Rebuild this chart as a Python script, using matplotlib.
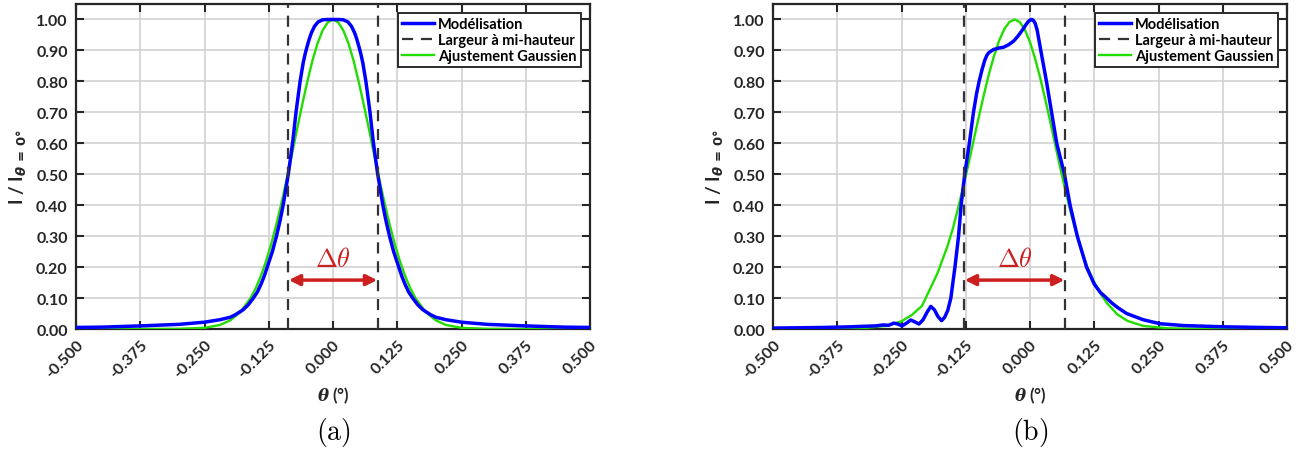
import numpy as np
import matplotlib
matplotlib.use('Agg')
import matplotlib.pyplot as plt
from matplotlib.ticker import FormatStrFormatter
from matplotlib.lines import Line2D

# --- panel (a): symmetric profile
theta_model_a = [-0.5, -0.45, -0.375, -0.3, -0.25, -0.22, -0.2, -0.19, -0.175, -0.165, -0.155,
                 -0.147, -0.14, -0.134, -0.128, -0.118, -0.11, -0.103, -0.097, -0.092, -0.087,
                 -0.082, -0.078, -0.075, -0.072, -0.068, -0.064, -0.058, -0.054, -0.05,
                 -0.046, -0.042, -0.036, -0.029, -0.02, -0.01, 0.0,
                 0.01, 0.02, 0.029, 0.036, 0.042, 0.046, 0.05, 0.054, 0.058, 0.064, 0.068,
                 0.072, 0.075, 0.078, 0.082, 0.087, 0.092, 0.097, 0.103, 0.11, 0.118, 0.128,
                 0.134, 0.14, 0.147, 0.155, 0.165, 0.175, 0.19, 0.2, 0.22, 0.25, 0.3, 0.375,
                 0.45, 0.5]
model_a = [0.005, 0.006, 0.010, 0.015, 0.022, 0.030, 0.038, 0.046, 0.062, 0.078, 0.10,
           0.12, 0.145, 0.17, 0.20, 0.25, 0.30, 0.35, 0.40, 0.45, 0.50,
           0.56, 0.61, 0.655, 0.70, 0.75, 0.80, 0.86, 0.89, 0.915,
           0.938, 0.957, 0.978, 0.992, 0.999, 1.0, 1.0,
           1.0, 0.999, 0.992, 0.978, 0.957, 0.938, 0.915, 0.89, 0.86, 0.80, 0.75,
           0.70, 0.655, 0.61, 0.56, 0.50, 0.45, 0.40, 0.35, 0.30, 0.25, 0.20,
           0.17, 0.145, 0.12, 0.10, 0.078, 0.062, 0.046, 0.038, 0.030, 0.022, 0.015, 0.010,
           0.006, 0.005]

theta_fit_a = [-0.5, -0.4, -0.35, -0.3, -0.25, -0.22, -0.2, -0.18, -0.16, -0.15, -0.14,
               -0.13, -0.12, -0.11, -0.1, -0.09, -0.08, -0.07, -0.06, -0.05, -0.04,
               -0.03, -0.02, -0.01, 0.0, 0.01, 0.02, 0.03, 0.04, 0.05, 0.06, 0.07,
               0.08, 0.09, 0.1, 0.11, 0.12, 0.13, 0.14, 0.15, 0.16, 0.18, 0.2, 0.22,
               0.25, 0.3, 0.35, 0.4, 0.5]
fit_a = [0.0, 0.0, 0.0, 0.0003, 0.0037, 0.013, 0.028, 0.055, 0.101, 0.133, 0.173,
         0.220, 0.276, 0.339, 0.409, 0.484, 0.564, 0.645, 0.724, 0.799, 0.867,
         0.923, 0.965, 0.991, 1.0, 0.991, 0.965, 0.923, 0.867, 0.799, 0.724, 0.645,
         0.564, 0.484, 0.409, 0.339, 0.276, 0.220, 0.173, 0.133, 0.101, 0.055, 0.028, 0.013,
         0.0037, 0.0003, 0.0, 0.0, 0.0]
fwhm_a = [-0.088, 0.088]

# --- panel (b): asymmetric profile with side lobes
theta_model_b = [-0.5, -0.45, -0.4, -0.35, -0.32, -0.3, -0.286, -0.275, -0.265, -0.257,
                 -0.249, -0.241, -0.232, -0.224, -0.216, -0.208, -0.2, -0.193, -0.186,
                 -0.179, -0.172, -0.166, -0.16, -0.154, -0.15, -0.146, -0.139, -0.134,
                 -0.127, -0.118, -0.11, -0.104, -0.099, -0.093, -0.088, -0.084, -0.08,
                 -0.071, -0.06, -0.052, -0.042, -0.032, -0.024, -0.016, -0.008, -0.003,
                 0.0, 0.003, 0.006, 0.01, 0.014, 0.021, 0.032, 0.042, 0.052, 0.067, 0.078,
                 0.092, 0.11, 0.125, 0.137, 0.149, 0.16, 0.17, 0.188, 0.22, 0.253, 0.3,
                 0.379, 0.45, 0.5]
model_b = [0.003, 0.004, 0.005, 0.007, 0.009, 0.010, 0.013, 0.012, 0.019, 0.016,
           0.010, 0.018, 0.029, 0.023, 0.016, 0.030, 0.055, 0.073, 0.062,
           0.040, 0.027, 0.038, 0.060, 0.10, 0.15, 0.20, 0.30, 0.40,
           0.50, 0.60, 0.70, 0.76, 0.80, 0.84, 0.868, 0.884, 0.893,
           0.903, 0.908, 0.910, 0.918, 0.93, 0.945, 0.963, 0.983, 0.994,
           0.998, 1.0, 0.998, 0.988, 0.965, 0.90, 0.80, 0.70, 0.60, 0.50, 0.40,
           0.30, 0.20, 0.145, 0.118, 0.10, 0.083, 0.07, 0.05, 0.03, 0.017, 0.011,
           0.007, 0.005, 0.004]

theta_fit_b = [-0.5, -0.4, -0.33, -0.28, -0.25, -0.23, -0.21, -0.19, -0.18, -0.17, -0.16,
               -0.15, -0.14, -0.13, -0.12, -0.11, -0.1, -0.09, -0.08, -0.07, -0.06,
               -0.05, -0.04, -0.03, -0.02, -0.01, 0.0, 0.01, 0.02, 0.03, 0.04, 0.05,
               0.06, 0.07, 0.08, 0.09, 0.1, 0.11, 0.12, 0.13, 0.14, 0.15, 0.17, 0.19,
               0.22, 0.27, 0.35, 0.5]
fit_b = [0.0, 0.0, 0.002, 0.010, 0.025, 0.045, 0.075, 0.145, 0.18, 0.225, 0.27,
         0.325, 0.39, 0.458, 0.531, 0.607, 0.682, 0.755, 0.823, 0.882, 0.932,
         0.969, 0.992, 1.0, 0.992, 0.967, 0.927, 0.873, 0.81, 0.74, 0.665, 0.588,
         0.512, 0.44, 0.372, 0.31, 0.255, 0.207, 0.168, 0.135, 0.107, 0.083, 0.047, 0.026,
         0.010, 0.002, 0.0, 0.0]
fwhm_b = [-0.129, 0.069]

x_ticks = [-0.5, -0.375, -0.25, -0.125, 0.0, 0.125, 0.25, 0.375, 0.5]
y_ticks = [0.0, 0.1, 0.2, 0.3, 0.4, 0.5, 0.6, 0.7, 0.8, 0.9, 1.0]
labels = ['Modélisation', 'Largeur à mi-hauteur', 'Ajustement Gaussien']
panel_names = ['(a)', '(b)']

plt.rcParams['font.family'] = ['Lato', 'DejaVu Sans']
plt.rcParams['font.weight'] = 'bold'
plt.rcParams['axes.labelweight'] = 'bold'

BLUE = '#0000ff'
GREEN = '#22dd00'
DASH = '#333333'
RED = '#cc1f1f'
SPINE = '#262626'

fig = plt.figure(figsize=(13.09, 4.56), dpi=100)
axes = [fig.add_axes([76 / 1309, 1 - 330 / 456, 514 / 1309, 325 / 456]),
        fig.add_axes([773 / 1309, 1 - 330 / 456, 514 / 1309, 325 / 456])]

panels = [(theta_model_a, model_a, theta_fit_a, fit_a, fwhm_a),
          (theta_model_b, model_b, theta_fit_b, fit_b, fwhm_b)]

for ax, (tm, ym, tf, yf, fw), name in zip(axes, panels, panel_names):
    ax.plot(tf, yf, color=GREEN, lw=1.7, zorder=3)
    ax.plot(tm, ym, color=BLUE, lw=2.5, zorder=4)
    for xv in fw:
        ax.axvline(xv, color=DASH, lw=1.6, ls=(0, (5, 3.5)), zorder=5)

    # delta theta arrow between the two half-maximum lines
    ax.annotate('', xy=(fw[0] + 0.002, 0.158), xytext=(fw[1] - 0.002, 0.158),
                arrowprops=dict(arrowstyle='<|-|>', color=RED, lw=2.5,
                                mutation_scale=16, shrinkA=0, shrinkB=0), zorder=6)
    ax.text((fw[0] + fw[1]) / 2, 0.228, r'$\Delta\theta$', color=RED, fontsize=19,
            ha='center', va='center', math_fontfamily='cm', zorder=6)

    ax.set_xlim(-0.5, 0.5)
    ax.set_ylim(0, 1.05)
    ax.set_xticks(x_ticks)
    ax.set_yticks(y_ticks)
    ax.xaxis.set_major_formatter(FormatStrFormatter('%.3f'))
    ax.yaxis.set_major_formatter(FormatStrFormatter('%.2f'))
    ax.grid(True, color='#d2d2d2', lw=1.2, zorder=0)
    ax.set_axisbelow(True)
    ax.tick_params(direction='in', top=True, right=True, length=6, width=1.5,
                   color=SPINE, labelsize=11.5, labelcolor='#262626', pad=6)
    for lab in ax.get_xticklabels():
        lab.set_rotation(45)
        lab.set_ha('right')
        lab.set_rotation_mode('anchor')
    for sp in ax.spines.values():
        sp.set_color(SPINE)
        sp.set_linewidth(1.6)

    ax.set_xlabel(r'$\theta$ (°)', fontsize=12, color='#262626', labelpad=3,
                  math_fontfamily='dejavuserif')
    ax.set_ylabel(r'I / I$_{\theta\,=\,0°}$', fontsize=13.5, color='#262626', labelpad=5)

    handles = [Line2D([], [], color=BLUE, lw=2.5),
               Line2D([], [], color=DASH, lw=1.6, ls=(0, (5, 3.5))),
               Line2D([], [], color=GREEN, lw=1.7)]
    leg = ax.legend(handles, labels, loc='upper right', fontsize=10.5, frameon=True,
                    fancybox=False, edgecolor='#1a1a1a', framealpha=1,
                    handlelength=2.2, handletextpad=0.3, borderpad=0.3,
                    labelspacing=0.12, borderaxespad=0.6)
    leg.get_frame().set_linewidth(1.3)

    pos = ax.get_position()
    fig.text(pos.x0 + pos.width / 2, 1 - 433 / 456, r'$\mathrm{' + name + '}$',
             fontsize=20, ha='center', va='center', math_fontfamily='cm')

fig.savefig('out.png', dpi=100)
